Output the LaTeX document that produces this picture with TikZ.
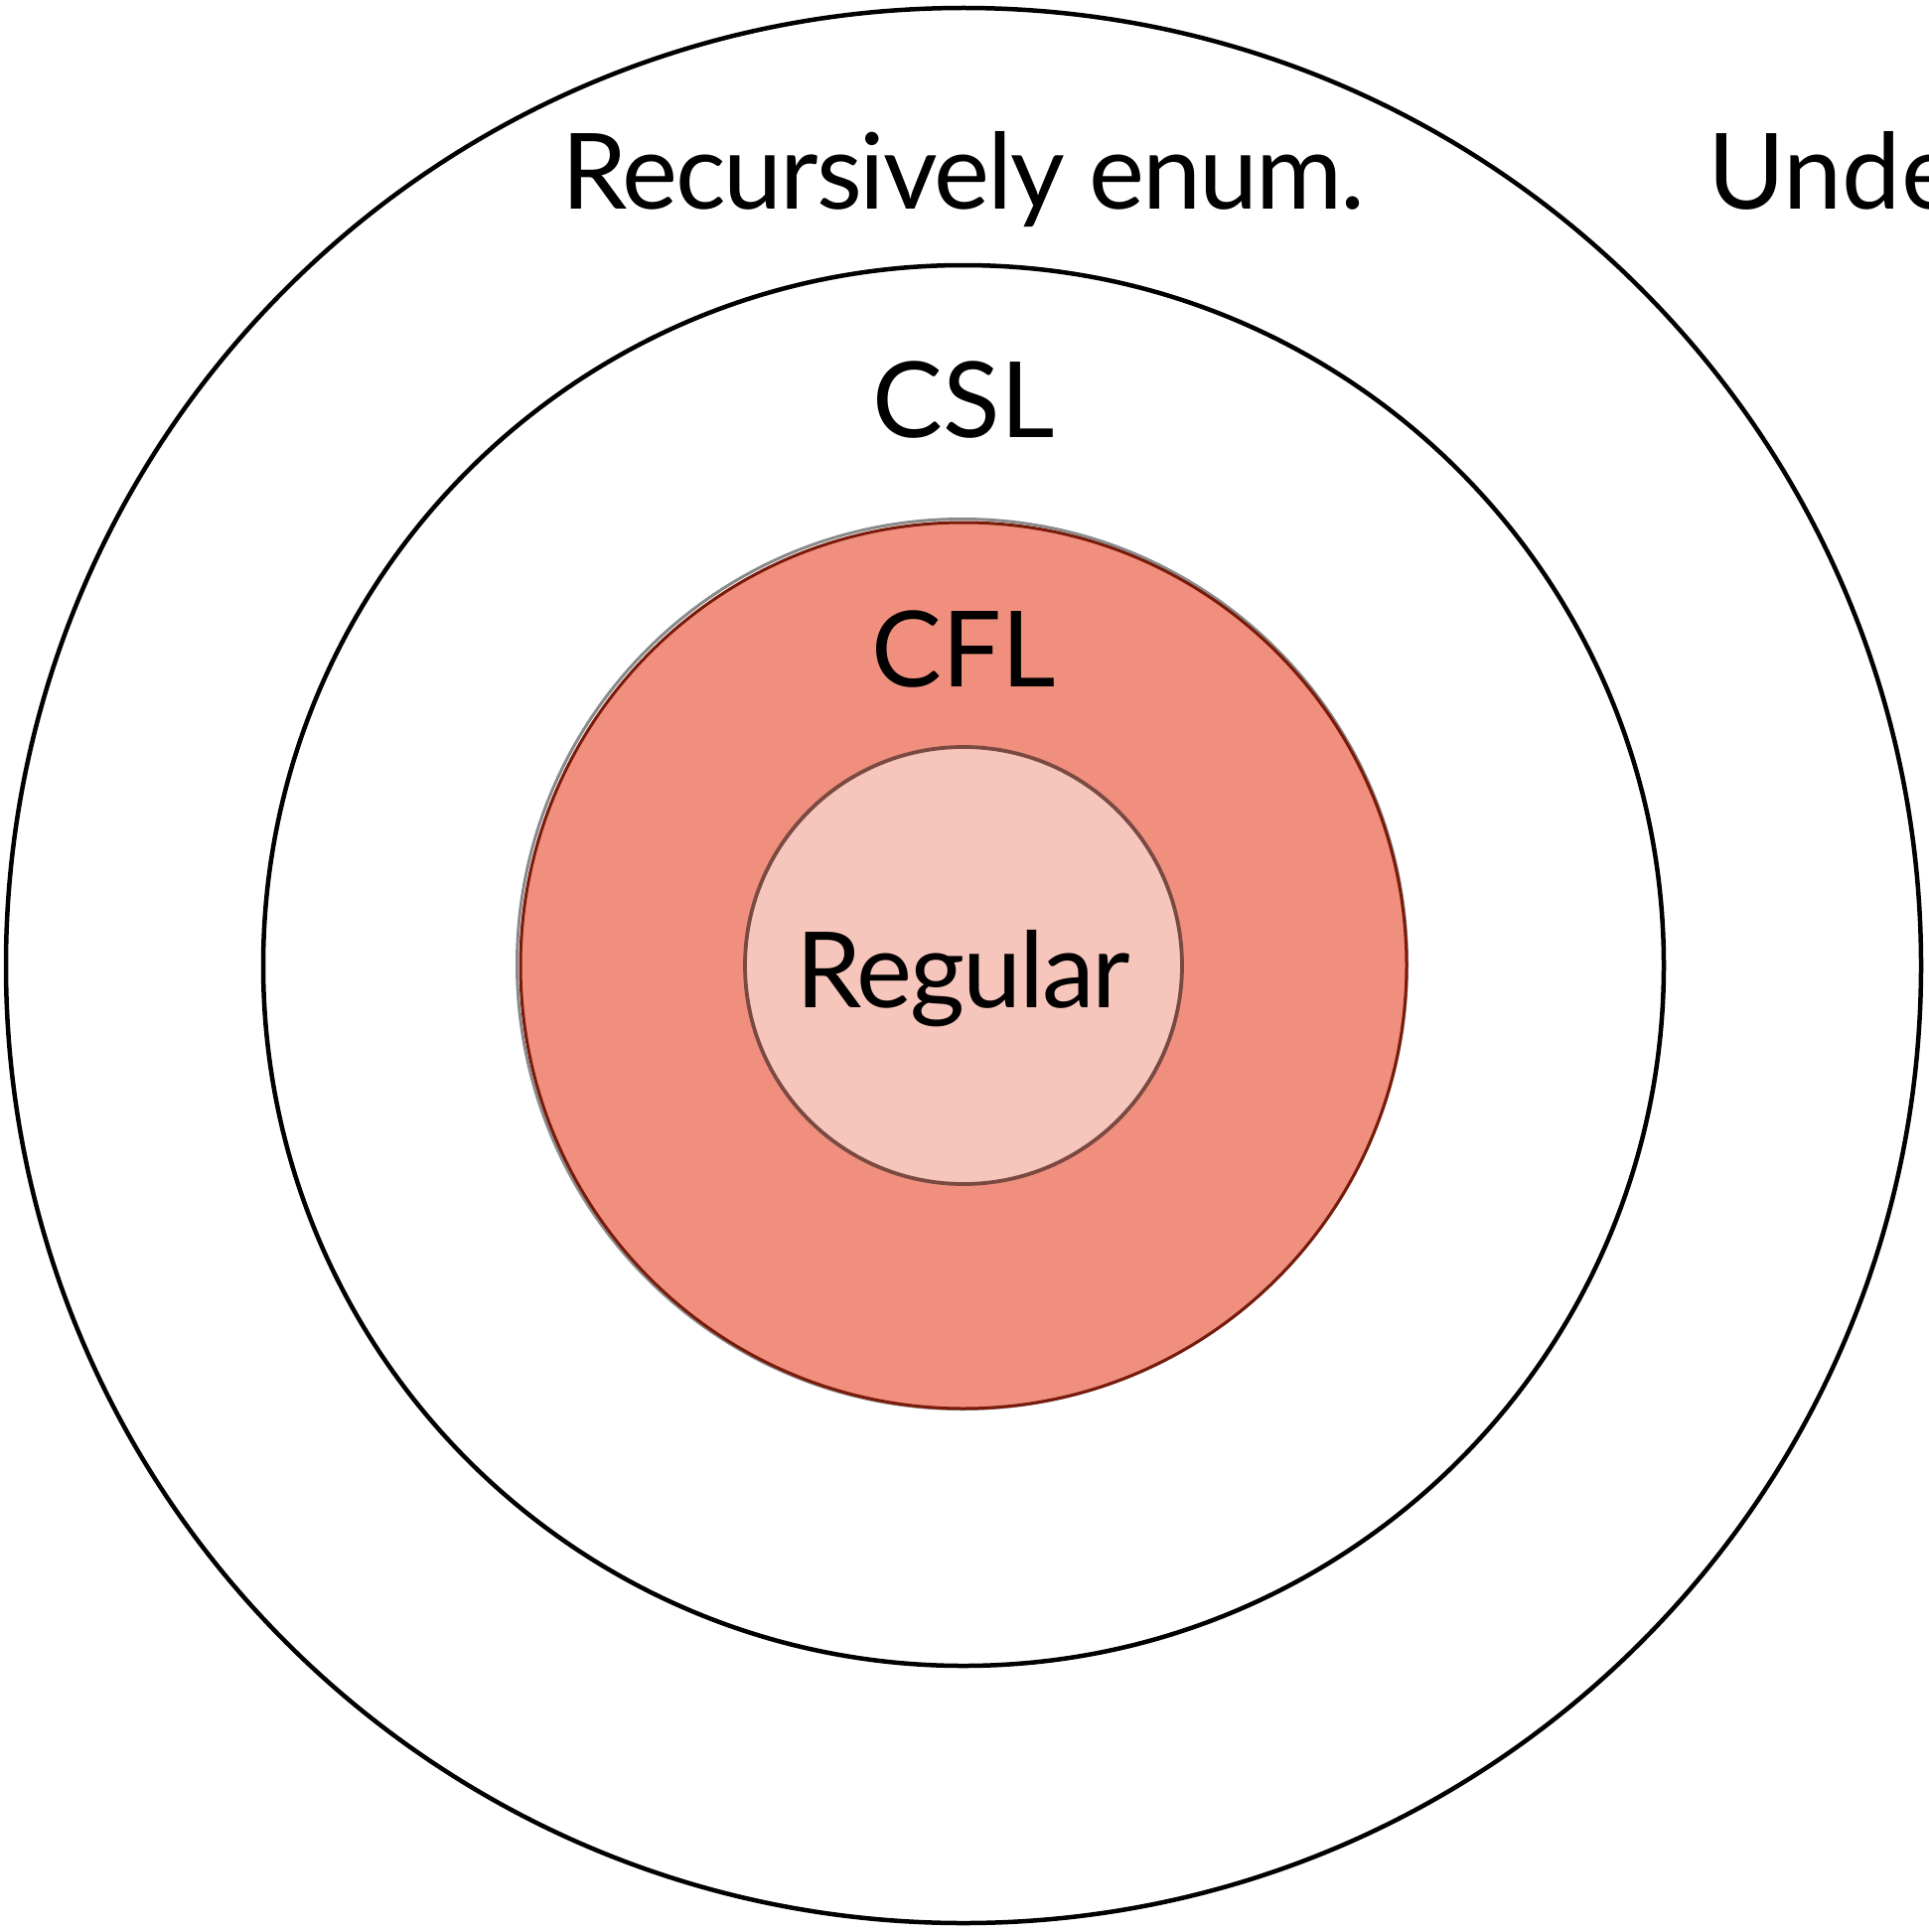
\documentclass[tikz,border=0pt]{standalone}
\usepackage{fontspec}
\usetikzlibrary{calc}
\setmainfont{Lato}
\definecolor{cflfill}{HTML}{F08F7E}
\definecolor{regfill}{HTML}{F6C5BB}
\definecolor{regedge}{HTML}{7A4A42}
\definecolor{cfledge}{HTML}{7A1A0A}
\definecolor{cflrim}{HTML}{8A8A8A}
\begin{document}
\begin{tikzpicture}[x=1pt,y=-1pt,
  ring/.style={draw=black,line width=4.5pt},
  lbl/.style={anchor=base,inner sep=0pt,font=\fontsize{106}{120}\selectfont}]
\useasboundingbox (0,0) rectangle (1941,1945);
\coordinate (c) at (970,972);
% nested language classes
\draw[ring] (c) circle[radius=964];
\draw[ring] (c) circle[radius=705];
\fill[cflfill] (c) circle[radius=446];
\draw[cflrim,line width=3pt] ($(c)+(-1.5,-1.5)$) circle[radius=448];
\draw[cfledge,line width=3pt] (c) circle[radius=446];
\draw[regedge,fill=regfill,line width=3.8pt] (c) circle[radius=220];
% labels
\node[lbl] (re) at (970,211) {\addfontfeatures{LetterSpace=-2}Recursively enum.};
\node[lbl,anchor=base west] (und) at (1719,211) {Unde};
\node[lbl] (csl) at (970,440) {CSL};
\node[lbl] (cfl) at (970,691) {CFL};
\node[lbl] (reg) at (970,1014) {\addfontfeatures{LetterSpace=-2}Regular};
\end{tikzpicture}
\end{document}
